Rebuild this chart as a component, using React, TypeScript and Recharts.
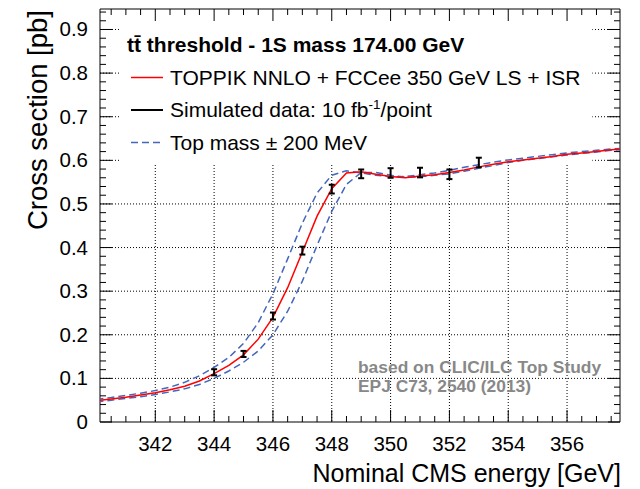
import React from 'react';
import { ComposedChart, Line, Scatter, XAxis, YAxis, CartesianGrid, ReferenceArea, ErrorBar } from 'recharts';

// energy grid of the theory curves [GeV]
const energyGrid = [
  340.0, 340.5, 341.0, 341.5, 342.0, 342.5, 343.0, 343.5, 344.0, 344.5, 345.0, 345.5,
  346.0, 346.5, 347.0, 347.5, 348.0, 348.5, 349.0, 349.5, 350.0, 350.5, 351.0, 351.5,
  352.0, 352.5, 353.0, 353.5, 354.0, 354.5, 355.0, 355.5, 356.0, 356.5, 357.0, 357.5, 358.0,
];

// TOPPIK NNLO + FCCee 350 GeV LS + ISR [pb]
const toppikNnlo = [
  0.049, 0.053, 0.057, 0.062, 0.067, 0.074, 0.082, 0.094, 0.111, 0.130, 0.154, 0.190,
  0.240, 0.308, 0.390, 0.472, 0.535, 0.571, 0.574, 0.568, 0.563, 0.560, 0.564, 0.567,
  0.572, 0.578, 0.585, 0.591, 0.597, 0.601, 0.605, 0.609, 0.614, 0.617, 0.620, 0.624, 0.626,
];

// top mass - 200 MeV
const massDown = [
  0.052, 0.056, 0.061, 0.066, 0.072, 0.080, 0.091, 0.106, 0.125, 0.148, 0.180, 0.228,
  0.294, 0.374, 0.456, 0.525, 0.566, 0.576, 0.571, 0.566, 0.562, 0.563, 0.567, 0.571,
  0.577, 0.584, 0.590, 0.596, 0.601, 0.605, 0.609, 0.613, 0.617, 0.620, 0.623, 0.626, 0.628,
];

// top mass + 200 MeV
const massUp = [
  0.046, 0.050, 0.054, 0.058, 0.063, 0.069, 0.076, 0.086, 0.100, 0.117, 0.137, 0.163,
  0.200, 0.254, 0.323, 0.405, 0.483, 0.545, 0.572, 0.572, 0.566, 0.561, 0.562, 0.566,
  0.569, 0.575, 0.582, 0.588, 0.595, 0.600, 0.604, 0.608, 0.612, 0.616, 0.619, 0.623, 0.625,
];

// simulated data, 10 fb-1 per point
const dataEnergy = [344, 345, 346, 347, 348, 349, 350, 351, 352, 353];
const dataXsec = [0.114, 0.156, 0.243, 0.393, 0.534, 0.569, 0.571, 0.572, 0.568, 0.595];
const dataErr = [0.007, 0.007, 0.008, 0.009, 0.010, 0.010, 0.011, 0.011, 0.011, 0.011];

const xMajorTicks = [342, 344, 346, 348, 350, 352, 354, 356];
const yMajorTicks = [0, 0.1, 0.2, 0.3, 0.4, 0.5, 0.6, 0.7, 0.8, 0.9];

const X_DOMAIN: [number, number] = [340.12, 357.8];
const Y_DOMAIN: [number, number] = [0, 0.947];

const xTicks: number[] = [];
for (let i = 1; i * 0.5 + 340 < X_DOMAIN[1]; i++) xTicks.push(340 + i * 0.5);
const yTicks: number[] = [];
for (let i = 0; i * 0.02 < Y_DOMAIN[1]; i++) yTicks.push(Math.round(i * 2) / 100);

const redCurve = energyGrid.map((x, i) => ({ x, y: toppikNnlo[i] }));
const downCurve = energyGrid.map((x, i) => ({ x, y: massDown[i] }));
const upCurve = energyGrid.map((x, i) => ({ x, y: massUp[i] }));
const points = dataEnergy.map((x, i) => ({ x, y: dataXsec[i], err: dataErr[i] }));

const W = 640;
const H = 489;
const PLOT_LEFT = 100;
const PLOT_RIGHT = 620;
const PLOT_TOP = 9;
const PLOT_BOTTOM = 422;
const FONT = '"Liberation Sans", Arial, Helvetica, sans-serif';
const BLUE = '#4466bb';
const DASH = '7 4';

const XTick = (props: any) => {
  const { x, payload } = props;
  const v = payload.value;
  const major = xMajorTicks.includes(v);
  const len = major ? 12 : 6;
  return (
    <g>
      <line x1={x} x2={x} y1={PLOT_BOTTOM} y2={PLOT_BOTTOM - len} stroke="#000" />
      <line x1={x} x2={x} y1={PLOT_TOP} y2={PLOT_TOP + len} stroke="#000" />
      {major && (
        <text x={x} y={451} textAnchor="middle" fontSize={20.5} fontFamily={FONT} fill="#000">
          {v}
        </text>
      )}
    </g>
  );
};

const YTick = (props: any) => {
  const { y, payload } = props;
  const v = payload.value;
  const major = yMajorTicks.some(m => Math.abs(m - v) < 1e-6);
  const len = major ? 12 : 6;
  return (
    <g>
      <line x1={PLOT_LEFT} x2={PLOT_LEFT + len} y1={y} y2={y} stroke="#000" />
      <line x1={PLOT_RIGHT} x2={PLOT_RIGHT - len} y1={y} y2={y} stroke="#000" />
      {major && (
        <text x={88} y={y + 7} textAnchor="end" fontSize={20.5} fontFamily={FONT} fill="#000">
          {v === 0 ? '0' : v.toFixed(1)}
        </text>
      )}
    </g>
  );
};

const Overlay = () => (
  <svg width={W} height={H} style={{ position: 'absolute', left: 0, top: 0, pointerEvents: 'none' }}>
    <g fontFamily={FONT} fill="#000">
      <text x={127} y={52} fontSize={21} fontWeight="bold">tt&#x0304; threshold - 1S mass 174.00 GeV</text>

      <line x1={131} x2={163} y1={77.5} y2={77.5} stroke="#ff0000" strokeWidth={1.5} />
      <text x={170} y={84.5} fontSize={21}>TOPPIK NNLO + FCCee 350 GeV LS + ISR</text>

      <line x1={131} x2={163} y1={110} y2={110} stroke="#000" strokeWidth={2} />
      <text x={170} y={117} fontSize={21}>
        Simulated data: 10 fb<tspan fontSize={13.5} dy={-8}>-1</tspan><tspan dy={8}>/point</tspan>
      </text>

      <line x1={131} x2={163} y1={142.5} y2={142.5} stroke={BLUE} strokeWidth={1.5} strokeDasharray={DASH} />
      <text x={170} y={149.5} fontSize={21}>Top mass ± 200 MeV</text>

      <text x={358} y={373} fontSize={17.4} fontWeight="bold" fill="#888">based on CLIC/ILC Top Study</text>
      <text x={358} y={392} fontSize={17.4} fontWeight="bold" fill="#888">EPJ C73, 2540 (2013)</text>

      <text transform="translate(46.5,10) rotate(-90)" textAnchor="end" fontSize={27.5}>Cross section [pb]</text>
      <text x={621} y={482} textAnchor="end" fontSize={25}>Nominal CMS energy [GeV]</text>
    </g>
  </svg>
);

const App: React.FC = () => {
  return (
    <div style={{ position: 'absolute', left: 0, top: 0, width: W, height: H, background: '#fff' }}>
      <ComposedChart width={W} height={H} margin={{ top: PLOT_TOP, right: W - PLOT_RIGHT, bottom: 0, left: 0 }}>
        <CartesianGrid
          verticalValues={xMajorTicks}
          horizontalValues={yMajorTicks.filter(v => v > 0)}
          stroke="#000"
          strokeDasharray="1 2"
        />
        <ReferenceArea x1={340.77} x2={356.86} y1={0.59} y2={Y_DOMAIN[1]} fill="#fff" fillOpacity={1} stroke="none" />
        <XAxis
          type="number"
          dataKey="x"
          domain={X_DOMAIN}
          allowDataOverflow
          ticks={xTicks}
          interval={0}
          tick={<XTick />}
          tickLine={false}
          axisLine={false}
          height={H - PLOT_BOTTOM}
        />
        <YAxis
          type="number"
          dataKey="y"
          domain={Y_DOMAIN}
          allowDataOverflow
          ticks={yTicks}
          interval={0}
          tick={<YTick />}
          tickLine={false}
          axisLine={false}
          width={PLOT_LEFT}
        />
        <Line data={downCurve} dataKey="y" stroke={BLUE} strokeWidth={1.5} strokeDasharray={DASH} dot={false} isAnimationActive={false} />
        <Line data={upCurve} dataKey="y" stroke={BLUE} strokeWidth={1.5} strokeDasharray={DASH} dot={false} isAnimationActive={false} />
        <Line data={redCurve} dataKey="y" stroke="#ff0000" strokeWidth={1.5} dot={false} isAnimationActive={false} />
        <Scatter data={points} dataKey="y" shape={() => <g />} isAnimationActive={false}>
          <ErrorBar dataKey="err" direction="y" width={3} stroke="#000" strokeWidth={2} isAnimationActive={false} />
        </Scatter>
        <ReferenceArea x1={X_DOMAIN[0]} x2={X_DOMAIN[1]} y1={Y_DOMAIN[0]} y2={Y_DOMAIN[1]} fill="none" stroke="#000" strokeWidth={1} />
      </ComposedChart>
      <Overlay />
    </div>
  );
};

export default App;
